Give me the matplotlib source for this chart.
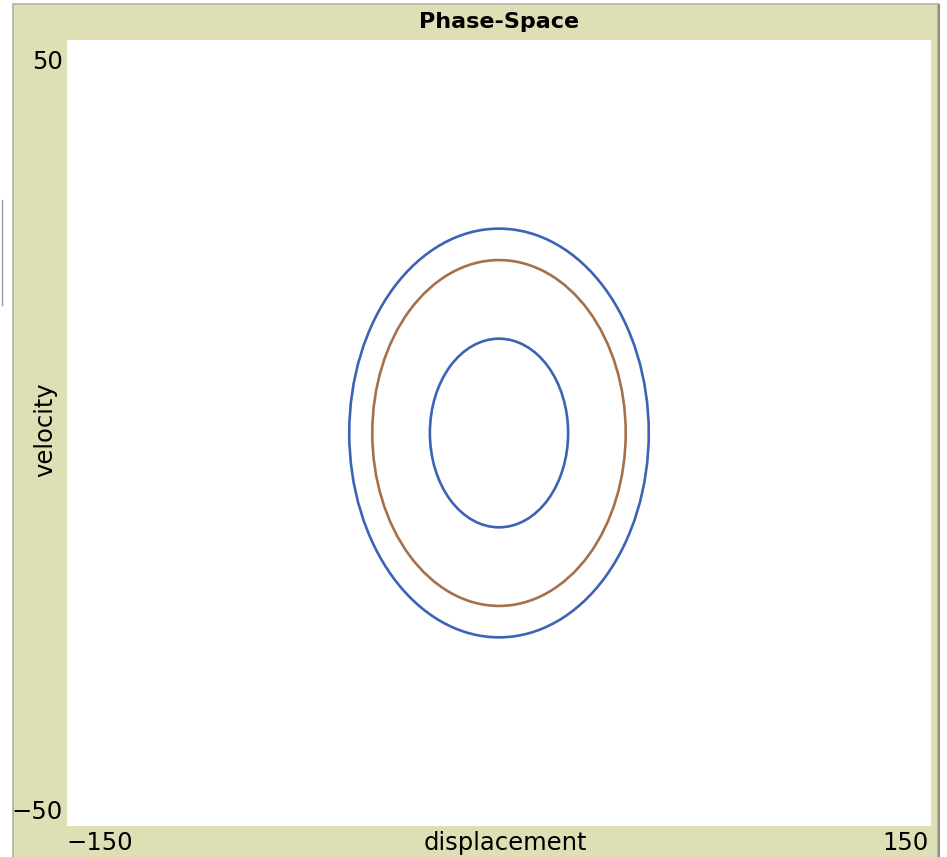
import matplotlib.pyplot as plt
from matplotlib.patches import Ellipse, Rectangle
from matplotlib.lines import Line2D

# phase-space orbits: displacement amplitude and velocity amplitude
orbit_names = ["outer", "middle", "inner"]
displacement_amp = [52, 44, 24]
velocity_amp = [26, 22, 12]
orbit_colors = ["#3b64b4", "#a5704a", "#3b64b4"]

x_limits = [-150, 150]
y_limits = [-50, 50]

KHAKI = "#dfdfb6"


def main():
    fig = plt.figure(figsize=(9.47, 8.57), dpi=100)
    fig.patch.set_facecolor("white")

    # khaki plot widget panel
    panel = Rectangle((13 / 947, -0.01), (938 - 13) / 947, 1 - 4 / 857 + 0.01,
                      transform=fig.transFigure, facecolor=KHAKI,
                      edgecolor="#b0b0a8", linewidth=1.2, zorder=-10)
    fig.patches.append(panel)
    # darker right edge of the panel
    fig.lines.append(Line2D([939 / 947, 939 / 947], [0, 1 - 5 / 857],
                            transform=fig.transFigure, color="#8f8f88", linewidth=1.5))
    # small grey mark at left edge
    fig.lines.append(Line2D([2 / 947, 2 / 947], [1 - 200 / 857, 1 - 305 / 857],
                            transform=fig.transFigure, color="#999999", linewidth=1))

    ax = fig.add_axes([67 / 947, 1 - 826 / 857, 864 / 947, 786 / 857])
    ax.set_zorder(5)
    ax.set_facecolor("white")
    ax.set_xlim(x_limits)
    ax.set_ylim(y_limits)
    for s in ax.spines.values():
        s.set_visible(False)
    ax.set_xticks([])
    ax.set_yticks([])

    for name, a, v, c in zip(orbit_names, displacement_amp, velocity_amp, orbit_colors):
        ax.add_patch(Ellipse((0, 0), 2 * a, 2 * v, fill=False, edgecolor=c, linewidth=1.9))

    fs = 17.5
    fig.text(63 / 947, 1 - 62 / 857, str(y_limits[1]), ha="right", va="center", fontsize=fs)
    fig.text(63 / 947, 1 - 812 / 857, "\u221250", ha="right", va="center", fontsize=fs)
    fig.text(66 / 947, 1 - 843 / 857, "\u2212150", ha="left", va="center", fontsize=fs)
    fig.text(929 / 947, 1 - 843 / 857, str(x_limits[1]), ha="right", va="center", fontsize=fs)
    fig.text(505 / 947, 1 - 843 / 857, "displacement", ha="center", va="center", fontsize=fs)
    fig.text(45 / 947, 1 - 430 / 857, "velocity", ha="center", va="center",
             rotation=90, fontsize=fs)
    fig.text(499 / 947, 1 - 22 / 857, "Phase-Space", ha="center", va="center",
             fontsize=16, fontweight="bold")

    fig.savefig("out.png", dpi=100)


if __name__ == '__main__':
    main()
